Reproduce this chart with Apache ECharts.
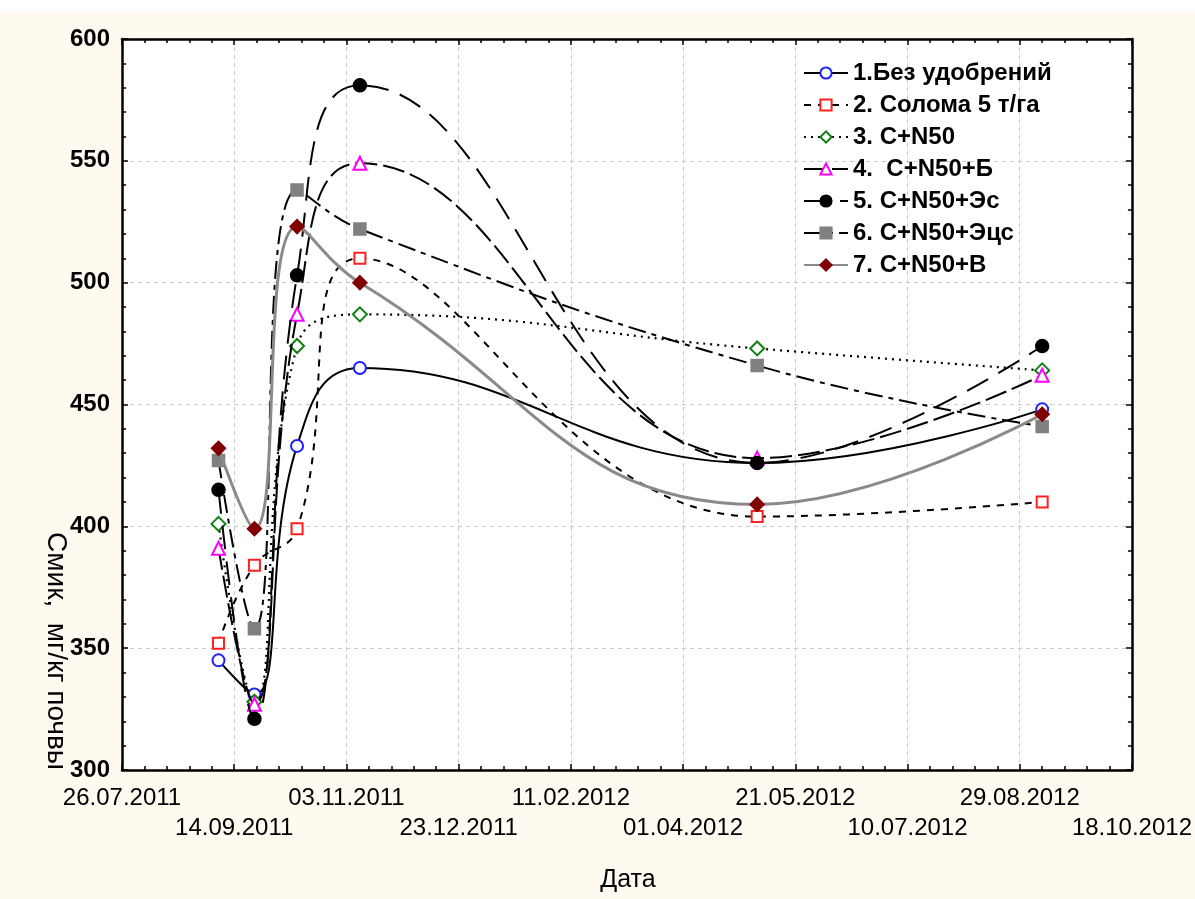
<!DOCTYPE html>
<html>
<head>
<meta charset="utf-8">
<script src="https://cdn.jsdelivr.net/npm/echarts@6/dist/echarts.min.js"></script>
<style>
  html, body { margin: 0; padding: 0; background: #FFFAF0; }
  #chart { width: 1195px; height: 899px; }
</style>
</head>
<body>
<div id="chart"></div>
<script>
// Sampling dates (dd.mm.yyyy)
const dates = ['07.09.2011', '23.09.2011', '12.10.2011', '09.11.2011', '04.05.2012', '08.09.2012'];

// Смик, мг/кг почвы for each treatment
const s1 = [345, 331, 433, 465, 426, 448];
const s2 = [352, 384, 399, 510, 404, 410];
const s3 = [401, 328, 474, 487, 473, 464];
const s4 = [391, 327, 487, 549, 428, 462];
const s5 = [415, 321, 503, 581, 426, 474];
const s6 = [427, 358, 538, 522, 466, 441];
const s7 = [432, 399, 523, 500, 409, 446];

const seriesNames = [
  '1.Без удобрений',
  '2. Солома 5 т/га',
  '3. C+N50',
  '4.  C+N50+Б',
  '5. C+N50+Эс',
  '6. C+N50+Эцс',
  '7. C+N50+В'
];

// x axis runs in days counted from the axis start date
const axisStart = '26.07.2011';
const axisEnd = '18.10.2012';
const DAY = 86400000;

function parseDate(s) {
  const p = s.split('.');
  return Date.UTC(+p[2], +p[1] - 1, +p[0]);
}
const base = parseDate(axisStart);
const toDay = s => Math.round((parseDate(s) - base) / DAY);
function fmtDay(v) {
  const d = new Date(base + v * DAY);
  const dd = String(d.getUTCDate()).padStart(2, '0');
  const mm = String(d.getUTCMonth() + 1).padStart(2, '0');
  return dd + '.' + mm + '.' + d.getUTCFullYear();
}
const xDays = dates.map(toDay);
const xMax = toDay(axisEnd);

const styles = [
  { symbol: 'emptyCircle',   color: '#1f1fff', size: 12, line: { color: '#000', width: 2, type: 'solid' } },
  { symbol: 'emptyRect',     color: '#ff2020', size: 11, line: { color: '#000', width: 2, type: [7, 7] } },
  { symbol: 'emptyDiamond',  color: '#108010', size: 14, line: { color: '#000', width: 2.2, type: [2, 5] } },
  { symbol: 'emptyTriangle', color: '#ff00ff', size: 13, line: { color: '#000', width: 2, type: [22, 6] } },
  { symbol: 'circle',        color: '#000000', size: 13, line: { color: '#000', width: 2, type: [24, 12] } },
  { symbol: 'rect',          color: '#808080', size: 12, line: { color: '#000', width: 2, type: [18, 6, 5, 6] } },
  { symbol: 'diamond',       color: '#800000', size: 14, line: { color: '#8a8a8a', width: 3, type: 'solid' } }
];
const values = [s1, s2, s3, s4, s5, s6, s7];

const series = values.map((vals, i) => ({
  name: seriesNames[i],
  type: 'line',
  smooth: 0.45,
  data: vals.map((v, j) => [xDays[j], v]),
  symbol: styles[i].symbol,
  symbolSize: styles[i].size,
  itemStyle: { color: styles[i].color, borderColor: styles[i].color, borderWidth: 1.5 },
  lineStyle: styles[i].line,
  z: 3 + i,
  animation: false
}));

const chart = echarts.init(document.getElementById('chart'), null, { renderer: 'canvas' });

const tickFont = 'Liberation Sans, Arial, sans-serif';
const isOddTick = v => Math.round(v / 50) % 2 === 1;

const frameAxis = {
  axisLine: { show: true, onZero: false, lineStyle: { color: '#000', width: 2.5 } },
  axisTick: { show: true, inside: true, length: 6, lineStyle: { color: '#000', width: 1.5 } },
  minorTick: { show: true, splitNumber: 5, length: 4, lineStyle: { color: '#000', width: 1.5 } }
};
const dateLabel = {
  fontFamily: tickFont,
  fontSize: 24,
  color: '#000',
  hideOverlap: false,
  showMinLabel: true,
  showMaxLabel: true
};

chart.setOption({
  backgroundColor: '#FFFAF0',
  animation: false,
  graphic: [
    { type: 'rect', left: 0, top: 0, shape: { width: 1195, height: 12 }, style: { fill: '#ffffff' }, z: -10 },
    {
      type: 'text',
      x: 56, y: 651,
      rotation: -Math.PI / 2,
      style: {
        text: 'Смик,  мг/кг почвы',
        font: '28px "Liberation Sans", Arial, sans-serif',
        fill: '#000',
        align: 'center',
        verticalAlign: 'middle'
      }
    },
    {
      type: 'text',
      x: 628, y: 880,
      style: {
        text: 'Дата',
        font: '25px "Liberation Sans", Arial, sans-serif',
        fill: '#000',
        align: 'center',
        verticalAlign: 'middle'
      }
    }
  ],
  grid: {
    left: 122, right: 62, top: 39, bottom: 129,
    show: true, backgroundColor: '#ffffff', borderWidth: 0
  },
  legend: {
    orient: 'vertical',
    left: 798, top: 56,
    itemWidth: 44, itemHeight: 14,
    itemGap: 8,
    textStyle: { fontFamily: tickFont, fontWeight: 'bold', fontSize: 24, color: '#000' },
    data: seriesNames
  },
  xAxis: [
    Object.assign({
      type: 'value',
      min: 0, max: xMax, interval: 50,
      splitLine: { show: true, lineStyle: { color: '#c8c8c8', type: [4, 4], width: 1 } },
      axisLabel: Object.assign({ margin: 16, formatter: v => (isOddTick(v) ? '' : fmtDay(v)) }, dateLabel)
    }, frameAxis),
    Object.assign({
      type: 'value',
      position: 'top',
      min: 0, max: xMax, interval: 50,
      splitLine: { show: false },
      axisLabel: { show: false }
    }, frameAxis),
    {
      // second row of date labels
      type: 'value',
      position: 'bottom',
      min: 0, max: xMax, interval: 50,
      axisLine: { show: false },
      axisTick: { show: false },
      splitLine: { show: false },
      axisLabel: Object.assign({ margin: 46, formatter: v => (isOddTick(v) ? fmtDay(v) : '') }, dateLabel)
    }
  ],
  yAxis: [
    Object.assign({
      type: 'value',
      min: 300, max: 600, interval: 50,
      splitLine: { show: true, lineStyle: { color: '#c8c8c8', type: [4, 4], width: 1 } },
      axisLabel: {
        margin: 12,
        fontFamily: tickFont,
        fontWeight: 'bold',
        fontSize: 24,
        color: '#000'
      }
    }, frameAxis),
    Object.assign({
      type: 'value',
      position: 'right',
      min: 300, max: 600, interval: 50,
      splitLine: { show: false },
      axisLabel: { show: false }
    }, frameAxis)
  ],
  series: series
});
</script>
</body>
</html>
